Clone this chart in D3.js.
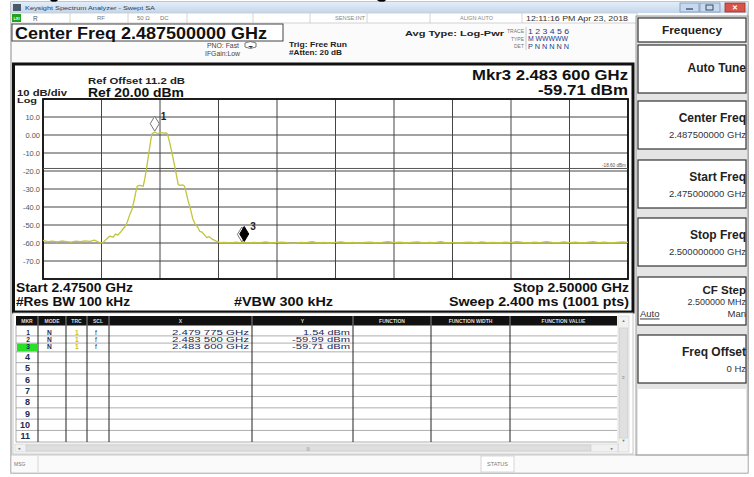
<!DOCTYPE html>
<html><head><meta charset="utf-8">
<script src="https://cdn.jsdelivr.net/npm/d3@7"></script>
<style>
html,body{margin:0;padding:0;background:#fff;}
svg{display:block;font-family:"Liberation Sans",Arial,sans-serif;}
</style></head><body>
<svg id="c" width="754" height="477"></svg>
<script>
// ---------------- DATA ----------------
const freqDomainMHz = [2475, 2500];
const levelDomainDbm = [-80, 20];
const xGridMHz = [2475, 2477.5, 2480, 2482.5, 2485, 2487.5, 2490, 2492.5, 2495, 2497.5, 2500];
const yGridDbm = [20, 10, 0, -10, -20, -30, -40, -50, -60, -70, -80];
const yTickValues = [10, 0, -10, -20, -30, -40, -50, -60, -70];
const yTickLabels = ["10.0", "0.00", "-10.0", "-20.0", "-30.0", "-40.0", "-50.0", "-60.0", "-70.0"];
const displayLineDbm = -18.6;
const displayLineLabel = "-18.60 dBm";

// trace: [frequency MHz, level dBm]
const tracePoints = [
  [2475.0,-58.6],[2475.2,-59.3],[2475.4,-59.0],[2475.6,-59.4],[2475.8,-58.9],[2476.0,-59.2],
  [2476.2,-59.5],[2476.4,-59.0],[2476.6,-59.3],[2476.8,-58.8],[2477.0,-59.1],[2477.2,-58.4],
  [2477.4,-59.6],[2477.55,-60.0],[2477.7,-58.0],[2477.85,-56.2],[2478.0,-56.8],[2478.1,-55.0],
  [2478.2,-55.6],[2478.3,-54.2],[2478.4,-52.5],[2478.5,-51.0],[2478.6,-48.5],[2478.7,-44.5],
  [2478.8,-41.5],[2478.9,-36.0],[2478.97,-31.5],[2479.03,-28.4],[2479.12,-28.0],[2479.22,-28.2],
  [2479.28,-28.6],[2479.34,-25.0],[2479.42,-19.0],[2479.5,-12.0],[2479.58,-5.0],[2479.65,0.5],
  [2479.72,1.2],[2479.775,1.54],[2479.85,1.1],[2479.95,0.9],[2480.05,1.3],[2480.15,1.0],
  [2480.25,1.2],[2480.32,0.6],[2480.4,-3.5],[2480.48,-8.0],[2480.56,-13.0],[2480.64,-18.0],
  [2480.72,-23.5],[2480.78,-27.6],[2480.86,-28.0],[2480.96,-27.7],[2481.04,-28.3],[2481.12,-32.0],
  [2481.2,-36.5],[2481.3,-41.0],[2481.4,-46.5],[2481.5,-49.5],[2481.6,-51.0],[2481.7,-53.5],
  [2481.8,-54.0],[2481.9,-55.5],[2482.0,-57.0],[2482.1,-56.5],[2482.25,-58.0],[2482.4,-59.0],
  [2482.55,-59.8],[2482.75,-59.6],[2483.0,-59.9],[2483.25,-59.5],[2483.5,-59.99],[2483.6,-59.71],
  [2483.75,-60.1],[2484.0,-59.6],[2484.25,-59.9],[2484.5,-59.4],[2484.75,-60.0],[2485.0,-59.7],
  [2485.25,-59.5],[2485.5,-59.9],[2485.75,-60.2],[2486.0,-59.6],[2486.25,-59.8],[2486.5,-59.3],
  [2486.75,-59.9],[2487.0,-59.6],[2487.25,-60.0],[2487.5,-59.7],[2487.75,-59.4],[2488.0,-59.9],
  [2488.25,-59.6],[2488.5,-60.1],[2488.75,-59.7],[2489.0,-59.5],[2489.25,-59.9],[2489.5,-59.6],
  [2489.75,-59.2],[2490.0,-59.8],[2490.25,-59.5],[2490.5,-60.0],[2490.75,-59.7],[2491.0,-59.4],
  [2491.25,-59.9],[2491.5,-59.6],[2491.75,-59.8],[2492.0,-59.3],[2492.25,-59.9],[2492.5,-59.6],
  [2492.75,-60.1],[2493.0,-59.7],[2493.25,-59.5],[2493.5,-59.9],[2493.75,-59.4],[2494.0,-59.8],
  [2494.25,-59.6],[2494.5,-60.0],[2494.75,-59.5],[2495.0,-59.8],[2495.25,-59.3],[2495.5,-59.7],
  [2495.75,-59.9],[2496.0,-59.5],[2496.25,-59.8],[2496.5,-59.2],[2496.75,-59.7],[2497.0,-59.9],
  [2497.25,-59.4],[2497.5,-59.8],[2497.75,-59.5],[2498.0,-59.9],[2498.25,-59.6],[2498.5,-59.3],
  [2498.75,-59.8],[2499.0,-59.5],[2499.25,-59.9],[2499.5,-59.6],[2499.75,-59.4],[2500.0,-59.7]
];

const markerIds = ["1", "2", "3"];
const markerFreqMHz = [2479.775, 2483.5, 2483.6];
const markerLevelDbm = [1.54, -59.99, -59.71];
const markerModes = ["N", "N", "N"];
const markerTraces = ["1", "1", "1"];
const markerScales = ["f", "f", "f"];
const markerXText = ["2.479 775 GHz", "2.483 500 GHz", "2.483 600 GHz"];
const markerYText = ["1.54 dBm", "-59.99 dBm", "-59.71 dBm"];
const tableRowLabels = ["1","2","3","4","5","6","7","8","9","10","11"];
const tableHeaders = ["MKR","MODE","TRC","SCL","X","Y","FUNCTION","FUNCTION WIDTH","FUNCTION VALUE"];

const softkeys = [
  {title: "Auto Tune", value: ""},
  {title: "Center Freq", value: "2.487500000 GHz"},
  {title: "Start Freq", value: "2.475000000 GHz"},
  {title: "Stop Freq", value: "2.500000000 GHz"},
  {title: "CF Step", value: "2.500000 MHz"},
  {title: "Freq Offset", value: "0 Hz"}
];

// ---------------- DRAW ----------------
const svg = d3.select("#c");

function T(g, x, y, s, o = {}) {
  const t = g.append("text").attr("x", x).attr("y", y).text(s)
    .attr("font-size", o.size || 8)
    .attr("font-weight", o.bold ? "bold" : "normal")
    .attr("fill", o.fill || "#111")
    .attr("text-anchor", o.anchor || "start")
    .attr("dominant-baseline", "central");
  if (o.w) t.attr("textLength", o.w).attr("lengthAdjust", "spacingAndGlyphs");
  if (o.deco) t.attr("text-decoration", o.deco);
  return t;
}
function R(g, x, y, w, h, fill, stroke, sw) {
  return g.append("rect").attr("x", x).attr("y", y).attr("width", w).attr("height", h)
    .attr("fill", fill || "none").attr("stroke", stroke || "none").attr("stroke-width", sw || 1);
}
function L(g, x1, y1, x2, y2, c, w) {
  return g.append("line").attr("x1", x1).attr("y1", y1).attr("x2", x2).attr("y2", y2)
    .attr("stroke", c || "#000").attr("stroke-width", w || 1);
}

// cropped caption bits at the very top
svg.append("path").attr("d", "M50,0 L58,0 L54,4 Z").attr("fill", "#000");
svg.append("path").attr("d", "M377,0 L386,0 L382,4 Z").attr("fill", "#000");

// window frame
R(svg, 11, 2, 737, 471, "#fbfbfb", "#8a8a8a", 1);

// title bar
const grad = svg.append("defs").append("linearGradient").attr("id", "tb").attr("x1", 0).attr("y1", 0).attr("x2", 0).attr("y2", 1);
grad.append("stop").attr("offset", "0").attr("stop-color", "#e3edf8");
grad.append("stop").attr("offset", "1").attr("stop-color", "#c4d6ec");
R(svg, 11, 2, 737, 11, "url(#tb)");
R(svg, 13, 4, 8, 7, "#4a5a6a");
T(svg, 25, 8, "Keysight Spectrum Analyzer - Swept SA", {size: 6, fill: "#2b3d55", w: 130});
// window buttons
R(svg, 680, 3, 19, 9, "#c7d9ee", "#7d95b5", 0.8);
L(svg, 686, 9, 693, 9, "#2b3d55", 1.2);
R(svg, 700, 3, 20, 9, "#c7d9ee", "#7d95b5", 0.8);
R(svg, 706, 5, 7, 5, "none", "#2b3d55", 0.9);
R(svg, 725, 3, 20, 9, "#d9534a", "#9c3028", 0.8);
T(svg, 735, 7.6, "✕", {size: 7, fill: "#fff", anchor: "middle", bold: true});

// status row
const srow = svg.append("g");
R(srow, 11, 13, 626, 10, "#fff", "#c9c9c9", 0.8);
R(srow, 12, 14, 9, 8, "#1fa31f");
T(srow, 16.5, 18, "LXI", {size: 4, fill: "#fff", anchor: "middle", bold: true});
[70, 128, 187, 253, 310, 367, 430, 522].forEach(x => L(srow, x, 13, x, 23, "#c9c9c9", 0.8));
T(srow, 33, 18.2, "R", {size: 6.5, fill: "#555"});
T(srow, 97, 18.2, "RF", {size: 6, fill: "#777"});
T(srow, 137, 18.2, "50 Ω", {size: 6, fill: "#777"});
T(srow, 160, 18.2, "DC", {size: 6, fill: "#777"});
T(srow, 335, 18.2, "SENSE:INT", {size: 6, fill: "#888", w: 30});
T(srow, 460, 18.2, "ALIGN AUTO", {size: 6, fill: "#888", w: 33});
T(srow, 526, 18.2, "12:11:16 PM Apr 23, 2018", {size: 6.5, fill: "#333", w: 102});

// Center Freq box
R(svg, 12, 24, 271, 17, "#fff", "#444", 1);
T(svg, 15, 33, "Center Freq 2.487500000 GHz", {size: 16, bold: true, w: 252});
T(svg, 207, 45, "PNO: Fast", {size: 6.5, fill: "#444", w: 32});
T(svg, 205, 53, "IFGain:Low", {size: 6.5, fill: "#444", w: 35});
svg.append("path").attr("d", "M245,43 Q250,40 256,43 L256,47 Q250,50 245,47 Z").attr("fill", "#fff").attr("stroke", "#555").attr("stroke-width", 0.8);
svg.append("path").attr("d", "M248,46 L253,46 L251,48 Z").attr("fill", "#333");
T(svg, 289, 44, "Trig: Free Run", {size: 8, bold: true, fill: "#222", w: 58});
T(svg, 289, 52, "#Atten: 20 dB", {size: 7.5, bold: true, fill: "#222", w: 53});
T(svg, 405, 33, "Avg Type: Log-Pwr", {size: 8, bold: true, fill: "#222", w: 99});
// trace block
T(svg, 524, 31, "TRACE", {size: 5, fill: "#777", anchor: "end"});
T(svg, 524, 38.5, "TYPE", {size: 5, fill: "#777", anchor: "end"});
T(svg, 524, 46, "DET", {size: 5, fill: "#777", anchor: "end"});
L(svg, 526, 27, 526, 50, "#bbb", 0.8);
T(svg, 528, 31, "1 2 3 4 5 6", {size: 7.5, fill: "#1a3c8c", w: 41});
T(svg, 528, 38.5, "M WWWWW", {size: 6.5, fill: "#1a3c8c", w: 40});
T(svg, 528, 46, "P N N N N N", {size: 6.5, fill: "#1a3c8c", w: 41});

// ---------------- PLOT FRAME ----------------
R(svg, 13.5, 64, 619.5, 248, "#fff", "#111", 3);

const x = d3.scaleLinear().domain(freqDomainMHz).range([43, 628]);
const y = d3.scaleLinear().domain(levelDomainDbm).range([279, 99]);

T(svg, 628, 74.5, "Mkr3 2.483 600 GHz", {size: 14, bold: true, anchor: "end", w: 156});
T(svg, 628, 90, "-59.71 dBm", {size: 14, bold: true, anchor: "end", w: 90});
T(svg, 88, 81, "Ref Offset 11.2 dB", {size: 9, bold: true, fill: "#222", w: 97});
T(svg, 88, 92.5, "Ref 20.00 dBm", {size: 13.5, bold: true, w: 96});
T(svg, 17, 92.5, "10 dB/div", {size: 9, bold: true, fill: "#222", w: 50});
T(svg, 17, 100.8, "Log", {size: 8, bold: true, fill: "#222", w: 20});

// grid
const grid = svg.append("g");
grid.selectAll("line.v").data(xGridMHz).enter().append("line")
  .attr("x1", d => x(d)).attr("x2", d => x(d)).attr("y1", y(20)).attr("y2", y(-80))
  .attr("stroke", "#444").attr("stroke-width", 1);
grid.selectAll("line.h").data(yGridDbm).enter().append("line")
  .attr("x1", x(2475)).attr("x2", x(2500)).attr("y1", d => y(d)).attr("y2", d => y(d))
  .attr("stroke", "#444").attr("stroke-width", 1);
R(grid, x(2475), y(20), x(2500) - x(2475), y(-80) - y(20), "none", "#111", 1.8);

// y axis labels through d3 axis
const yAxis = d3.axisLeft(y).tickValues(yTickValues).tickSize(0).tickPadding(3)
  .tickFormat((d, i) => yTickLabels[i]);
const ga = svg.append("g").attr("transform", `translate(${x(2475)},0)`).call(yAxis);
ga.select(".domain").remove();
ga.selectAll("text").attr("font-size", 7.5).attr("fill", "#555")
  .attr("font-family", "'Liberation Sans',Arial,sans-serif");

// display line
L(svg, x(2475), y(displayLineDbm), x(2500), y(displayLineDbm), "#555", 1);
T(svg, 626, y(displayLineDbm) - 3.5, displayLineLabel, {size: 5, fill: "#555", anchor: "end", w: 24});

// trace
const line = d3.line().x(d => x(d[0])).y(d => y(d[1]));
svg.append("path").datum(tracePoints).attr("d", line)
  .attr("fill", "none").attr("stroke", "#c2c43c").attr("stroke-width", 1.3)
  .attr("stroke-linejoin", "round");

// markers (drawn 2, 1, 3 so the active one is on top)
const order = [1, 0, 2];
order.forEach(i => {
  const mx = x(markerFreqMHz[i]), my = y(markerLevelDbm[i]) - 1;
  const active = markerIds[i] === "3";
  const hw = 4.5, h = 15;
  svg.append("path")
    .attr("d", `M${mx},${my} L${mx - hw},${my - h / 2} L${mx},${my - h} L${mx + hw},${my - h / 2} Z`)
    .attr("fill", active ? "#000" : "#fff").attr("stroke", active ? "#000" : "#777").attr("stroke-width", 1);
  if (markerIds[i] !== "2")
    T(svg, mx + 6, my - 15, markerIds[i], {size: 10, bold: true, fill: "#222"});
});

T(svg, 16, 288, "Start 2.47500 GHz", {size: 12, bold: true, w: 117});
T(svg, 16, 302, "#Res BW 100 kHz", {size: 12, bold: true, w: 114});
T(svg, 234, 302, "#VBW 300 kHz", {size: 12, bold: true, w: 99});
T(svg, 629, 288, "Stop 2.50000 GHz", {size: 12, bold: true, anchor: "end", w: 116});
T(svg, 629, 302, "Sweep  2.400 ms (1001 pts)", {size: 12, bold: true, anchor: "end", w: 180});

// ---------------- MARKER TABLE ----------------
const tb = svg.append("g");
const colX = [16, 38, 66, 87, 109, 252, 353, 431, 510, 617];
const headTop = 316, headBot = 325.5;
const rowCenters = [332.3, 339.5, 346.7, 357, 368.3, 379.6, 390.9, 402.2, 413.5, 424.8, 436.1];
const tableBottom = 442;
R(tb, 13, 313, 620, 141, "#fff", "#bbb", 0.8);
R(tb, colX[0], headTop, colX[9] - colX[0], headBot - headTop, "#111");
tableHeaders.forEach((h, i) => {
  T(tb, (colX[i] + colX[i + 1]) / 2, (headTop + headBot) / 2, h, {size: 5, fill: "#ddd", anchor: "middle", bold: true});
  if (i > 0) L(tb, colX[i], headTop, colX[i], headBot, "#888", 1);
});
// row lines
const rowBounds = [headBot];
for (let i = 0; i < rowCenters.length - 1; i++) rowBounds.push((rowCenters[i] + rowCenters[i + 1]) / 2);
rowBounds.push(tableBottom);
rowBounds.slice(1).forEach(b => L(tb, colX[0], b, colX[9], b, "#9a9a9a", 0.8));
colX.slice(1, 9).forEach(cx => L(tb, cx, headBot, cx, tableBottom, "#222", 1));
L(tb, colX[0], headBot, colX[0], tableBottom, "#999", 0.8);
// green active row marker
R(tb, colX[0] + 1, rowBounds[2] + 0.5, colX[1] - colX[0] - 2, rowBounds[3] - rowBounds[2] - 1, "#27e027");
tableRowLabels.forEach((lab, i) => {
  T(tb, 30, rowCenters[i], lab, {size: i < 3 ? 6.6 : 9, bold: true, fill: "#1b2a55", anchor: "end"});
});
markerIds.forEach((id, i) => {
  T(tb, 47, rowCenters[i], markerModes[i], {size: 6.6, bold: true, fill: "#1b2a55"});
  T(tb, 75, rowCenters[i], markerTraces[i], {size: 6.6, bold: true, fill: "#c8c21a"});
  T(tb, 95, rowCenters[i], markerScales[i], {size: 6.6, fill: "#1b2a55"});
  T(tb, 249, rowCenters[i], markerXText[i], {size: 6.6, fill: "#1b2a55", anchor: "end", w: 77});
  T(tb, 350, rowCenters[i], markerYText[i], {size: 6.6, fill: "#1b2a55", anchor: "end", w: i === 0 ? 47 : 58});
});
// vertical scrollbar
R(tb, 618, headTop, 11, tableBottom - headTop + 10, "#f1f1f1", "#ccc", 0.6);
T(tb, 623.5, 320, "▲", {size: 4, fill: "#777", anchor: "middle"});
R(tb, 619.5, 328, 8, 110, "#e0e0e0", "#c8c8c8", 0.6);
T(tb, 623.5, 377, "≡", {size: 5, fill: "#888", anchor: "middle"});
T(tb, 623.5, 440, "▼", {size: 4, fill: "#777", anchor: "middle"});
// horizontal scrollbar
R(tb, 15, 444, 603, 8, "#f1f1f1", "#ccc", 0.6);
T(tb, 19, 448, "◄", {size: 4, fill: "#777", anchor: "middle"});
R(tb, 26, 445, 565, 6, "#dedede", "#c8c8c8", 0.6);
T(tb, 308, 448, "|||", {size: 4, fill: "#888", anchor: "middle"});
T(tb, 612, 448, "►", {size: 4, fill: "#777", anchor: "middle"});

// status bar
R(svg, 11, 455, 737, 18, "#fafafa", "#bbb", 0.8);
T(svg, 14, 464, "MSG", {size: 5, fill: "#777"});
L(svg, 38, 456, 38, 472, "#ccc", 0.8);
R(svg, 481, 456, 33, 16, "#fff", "#ccc", 0.8);
T(svg, 497.5, 464, "STATUS", {size: 5.5, fill: "#777", anchor: "middle"});

// ---------------- SOFTKEY PANEL ----------------
const sk = svg.append("g");
R(sk, 636, 16, 112, 439, "#e4e4e4", "#888", 0.8);
R(sk, 638, 18, 108, 24, "#fff", "#333", 1.2);
T(sk, 692, 30, "Frequency", {size: 11, bold: true, fill: "#222", anchor: "middle", w: 60});
const boxTops = [45, 101, 160, 218, 277, 335];
const boxH = 48;
softkeys.forEach((k, i) => {
  const t0 = boxTops[i];
  R(sk, 638, t0, 108, boxH, "#fff", "#333", 1.2);
  if (k.value === "") {
    T(sk, 746, t0 + 23, k.title, {size: 12, bold: true, fill: "#222", anchor: "end"});
  } else if (k.title === "CF Step") {
    T(sk, 746, t0 + 12.5, k.title, {size: 11.5, bold: true, fill: "#222", anchor: "end"});
    T(sk, 746, t0 + 25, k.value, {size: 9, fill: "#333", anchor: "end"});
  } else {
    T(sk, 746, t0 + 17, k.title, {size: 12, bold: true, fill: "#222", anchor: "end"});
    T(sk, 746, t0 + 33, k.value, {size: 9.5, fill: "#333", anchor: "end"});
  }
});
T(sk, 640, 313, "Auto", {size: 9.5, fill: "#333", deco: "underline"});
T(sk, 746, 313, "Man", {size: 9.5, fill: "#333", anchor: "end"});
R(sk, 638, 389, 108, 65, "#fff", "none");
</script>
</body></html>
